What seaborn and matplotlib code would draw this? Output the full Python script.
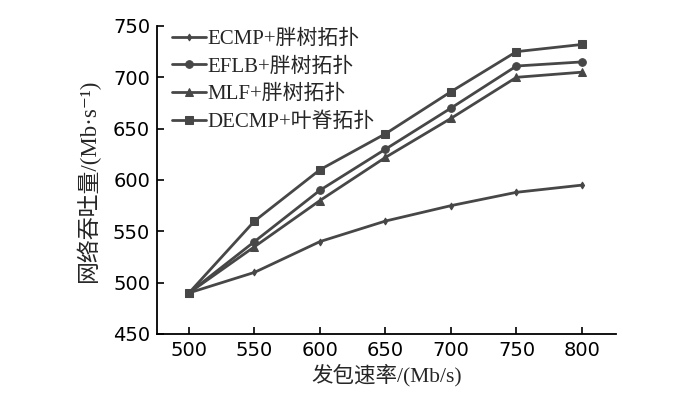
import matplotlib
matplotlib.use("Agg")
import matplotlib.pyplot as plt
import seaborn as sns
import pandas as pd

rates = [500, 550, 600, 650, 700, 750, 800]
ecmp = [490, 510, 540, 560, 575, 588, 595]
eflb = [490, 540, 590, 630, 670, 711, 715]
mlf = [490, 535, 580, 622, 660, 700, 705]
decmp = [490, 560, 610, 645, 686, 725, 732]
names = ["ECMP+胖树拓扑", "EFLB+胖树拓扑", "MLF+胖树拓扑", "DECMP+叶脊拓扑"]
yticks = [450, 500, 550, 600, 650, 700, 750]

sns.set_theme(style="ticks")
plt.rcParams['font.family'] = ['DejaVu Sans', 'Noto Sans CJK SC']
FAM = ['Liberation Serif', 'Noto Sans CJK SC', 'DejaVu Sans']

rows = []
for n, vals in zip(names, [ecmp, eflb, mlf, decmp]):
    for r, v in zip(rates, vals):
        rows.append({"rate": r, "val": v, "series": n})
df = pd.DataFrame(rows)

fig = plt.figure(figsize=(7, 3.96), dpi=100)
ax = fig.add_axes([0.2243, 0.1566, 0.6557, 0.7778])

markers = {names[0]: "d", names[1]: "o", names[2]: "^", names[3]: "s"}
sizes = {names[0]: 3.5, names[1]: 5.5, names[2]: 5.5, names[3]: 5.5}
c = "#474747"
for n in names:
    sub = df[df.series == n]
    sns.lineplot(data=sub, x="rate", y="val", ax=ax, color=c, lw=2,
                 marker=markers[n], markersize=sizes[n], markeredgecolor=c,
                 markerfacecolor=c, label=n)

ax.set_xlim(475.6, 826)
ax.set_ylim(450, 750)
ax.set_xticks(rates)
ax.set_yticks(yticks)
ax.tick_params(direction="in", length=5, width=1.2, labelsize=14, colors="black", pad=5)
for s in ["top", "right"]:
    ax.spines[s].set_visible(False)
for s in ["left", "bottom"]:
    ax.spines[s].set_linewidth(1.3)
    ax.spines[s].set_color("black")

ax.set_xlabel("发包速率/(Mb/s)", fontsize=15.5, family=FAM, labelpad=3)
ax.set_ylabel("网络吞吐量/(Mb·s⁻¹)", fontsize=16.5, family=FAM, labelpad=9)

leg = ax.legend(loc="upper left", frameon=False, handlelength=1.6,
                handletextpad=0.1, labelspacing=0.38, borderaxespad=0.0,
                bbox_to_anchor=(0.015, 1.015),
                prop={'family': FAM, 'size': 15})

fig.savefig("out.png", dpi=100)
